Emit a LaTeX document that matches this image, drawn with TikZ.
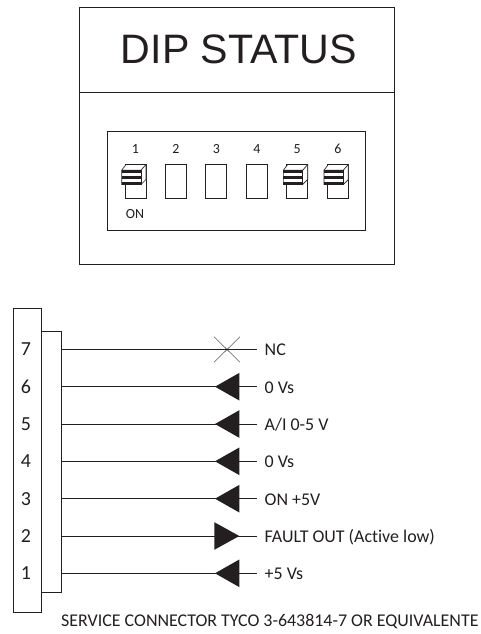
\documentclass[tikz,border=0pt]{standalone}
\usepackage{fontspec}
\setmainfont[Ligatures=NoCommon]{Carlito}
\newfontfamily\titlefont{Liberation Sans}
\definecolor{ink}{HTML}{231F20}
\tikzset{
  x=1bp,y=-1bp,
  wire/.style={draw=ink,line width=0.65bp},
  frame/.style={draw=ink,line width=0.65bp},
  lab/.style={anchor=west,inner sep=0pt,text=ink,font=\fontsize{18}{20}\selectfont},
  num/.style={anchor=center,inner sep=0pt,text=ink,font=\fontsize{20}{22}\selectfont},
  small/.style={anchor=center,inner sep=0pt,text=ink,font=\fontsize{14}{16}\selectfont},
  tri/.style={fill=ink,draw=none}
}
\newcommand{\dipslot}[2]{%
  \draw[frame] (#1,164.5) rectangle (#1+21,198);
  \node[small] at (#1+10.5,149) {#2};
}
\newcommand{\diptoggle}[1]{%
  \fill[white] (#1-3.5,170.5) rectangle (#1+16,184);
  \draw[frame,fill=white] (#1-3.3,170.2) -- (#1+1,164.5) -- (#1+21,164.5) -- (#1+21,179.5) -- (#1+16,184.5) -- (#1-3.3,184.5) -- cycle;
  \draw[frame] (#1-3.3,170.2) -- (#1+16,170.2) -- (#1+21,164.5);
  \draw[frame] (#1+16,170.2) -- (#1+16,184.5);
  \fill[ink] (#1-3.3,170.2) rectangle (#1+16,173.2);
  \fill[ink] (#1-3.3,176) rectangle (#1+16,179);
  \fill[ink] (#1-3.3,181.8) rectangle (#1+16,184.8);
}
\newcommand{\pin}[4]{% y, number, label, type
  \node[num] (n#2) at (26,#1) {#2};
  \coordinate (w#2) at (61,#1);
  \coordinate (e#2) at (256.7,#1);
  \draw[wire] (w#2) -- (e#2);
  \node[lab] at (264.5,#1+0.8) {#3};
}
\begin{document}
\begin{tikzpicture}
\useasboundingbox (0,0) rectangle (481,634);
\fill[white] (0,0) rectangle (481,634);
% DIP status frame
\draw[frame] (79,7) rectangle (394.5,264);
\draw[frame] (79,92.7) -- (394.5,92.7);
\node[inner sep=0pt,text=ink,font=\titlefont\fontsize{41.3}{44}\selectfont] (title) at (239,49.5) {DIP STATUS};
\draw[frame] (107.5,131.7) rectangle (365.7,230);
\dipslot{125}{1}\dipslot{165.3}{2}\dipslot{205.8}{3}\dipslot{246.3}{4}\dipslot{286.7}{5}\dipslot{327.3}{6}
\diptoggle{125}\diptoggle{286.7}\diptoggle{327.3}
\node[small] (on) at (135,214.5) {ON};
% Connector
\draw[frame] (13.3,308.3) rectangle (41.3,612.7);
\draw[frame] (41.3,331) rectangle (61,592);
\pin{349.3}{7}{NC}{x}
\pin{386.7}{6}{0 Vs}{l}
\pin{424}{5}{A/I 0-5 V}{l}
\pin{461.3}{4}{0 Vs}{l}
\pin{498.7}{3}{ON +5V}{l}
\pin{536}{2}{FAULT OUT (Active low)}{r}
\pin{573.3}{1}{+5 Vs}{l}
\draw[draw=ink,line width=0.4bp] (214,336.7) -- (240,362.3) (214,362.3) -- (240,336.7);
\foreach \y in {386.7,424,461.3,498.7,573.3}
  \fill[ink] (215,\y) -- (239.3,\y-13.8) -- (239.3,\y+13.8) -- cycle;
\fill[ink] (214.3,522.2) -- (239.3,536) -- (214.3,549.8) -- cycle;
\node[anchor=west,inner sep=0pt,text=ink,font=\fontsize{18}{20}\selectfont] (caption) at (61,621.7) {SERVICE CONNECTOR TYCO 3-643814-7 OR EQUIVALENTE};
\end{tikzpicture}
\end{document}
